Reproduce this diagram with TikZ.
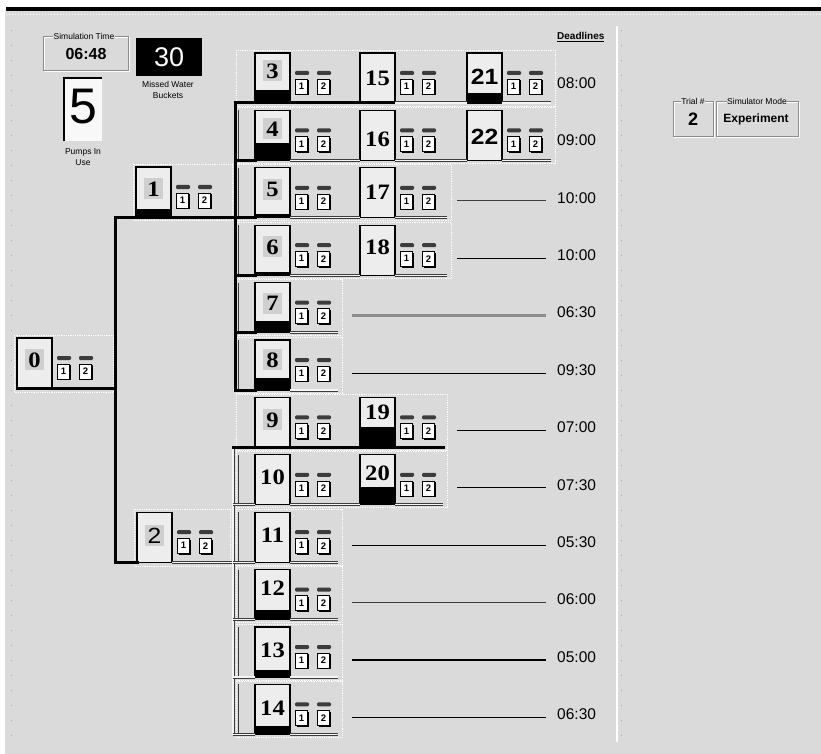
\documentclass[tikz,border=0pt]{standalone}
\usepackage{fontspec}
\setmainfont{Liberation Sans}
\newfontfamily\numfont{Liberation Serif}
\usetikzlibrary{shadows}
\definecolor{bg}{HTML}{DADADA}
\definecolor{boxfill}{HTML}{EDEDED}
\definecolor{numhl}{HTML}{CFCFCF}
\definecolor{dgray}{HTML}{3C3C3C}
\definecolor{mgray}{HTML}{8C8C8C}

\newcommand{\TreeNode}[7]{%
  \node[nbox] (#1) at (#2,#3) {};
  \ifdim #5pt>0pt \fill[black] (#2,#3+50-#5) rectangle (#2+35,#3+50);\fi
  \ifnum#7=1 \fill[numhl] (#2+8,#3+#6-11) rectangle (#2+27,#3+#6+10);\fi
  \node[num] (#1-t) at (#2+17.5,#3+#6) {#4};
}
\newcommand{\IconPair}[3]{%
  \fill[dgray,rounded corners=1.2pt] (#2+5,#3+18) rectangle (#2+19,#3+22);
  \fill[dgray,rounded corners=1.2pt] (#2+27,#3+18) rectangle (#2+41,#3+22);
  \node[ico] (#1-i1) at (#2+11.5,#3+33.5) {1};
  \node[ico] (#1-i2) at (#2+33.5,#3+33.5) {2};
}

\begin{document}
\begin{tikzpicture}[x=1pt,y=-1pt,
  nbox/.style={draw=black,line width=1.1pt,fill=boxfill,minimum width=35pt,minimum height=50pt,anchor=north west,inner sep=0pt,outer sep=0pt},
  num/.style={inner sep=0pt,font=\numfont\bfseries\fontsize{22}{22}\selectfont,xscale=1.12},
  ico/.style={draw=black,line width=0.6pt,fill=white,minimum width=12pt,minimum height=15pt,inner sep=0pt,font=\bfseries\fontsize{9.5}{9.5}\selectfont,drop shadow={shadow xshift=1.3pt,shadow yshift=-1.3pt,fill=black,opacity=1}},
  thk/.style={line width=3pt,line cap=rect,line join=miter},
  dbl/.style={draw=dgray,double=white!70!bg,double distance=1.2pt,line width=0.9pt},
  lline/.style={dgray,line width=1pt},
  pnl/.style={white,densely dotted,line width=0.8pt},
  dl/.style={line width=1pt,black,shorten >=11pt},
  dtime/.style={font=\fontsize{15.5}{15.5}\selectfont,inner sep=0pt,anchor=west},
  lbl/.style={font=\fontsize{8.5}{10.5}\selectfont,inner sep=0.5pt,align=center},
  grpA/.style={mgray,line width=0.7pt},
  grpB/.style={white,line width=0.7pt}
]
\useasboundingbox (0,0) rectangle (821,754);
\fill[white] (0,0) rectangle (821,754);
\fill[bg] (5,11) rectangle (821,754);
\fill[black] (6,7) rectangle (821,11);
\draw[white,dash pattern=on 1pt off 2pt] (6,14) -- (821,14);
\draw[gray!70,dash pattern=on 1pt off 14pt] (11,30) -- (11,742);
\draw[white,line width=1.5pt] (617,26) -- (617,742);
\draw[gray!70,dash pattern=on 1pt off 14pt] (621,30) -- (621,742);

% ---- top left widgets
\draw[grpB] (44,37) rectangle (129,71);
\draw[grpA] (43,36) rectangle (128,70);
\node[lbl,fill=bg] (simt-l) at (84,36) {Simulation Time};
\node[inner sep=0pt,font=\bfseries\fontsize{16}{16}\selectfont] (simt) at (86,54) {06:48};
\node[fill=black,minimum width=66pt,minimum height=38pt,inner sep=0pt,anchor=north west,text=white,font=\fontsize{27}{27}\selectfont] (missed) at (136,38) {30};
\node[lbl] (missed-l) at (168,90) {Missed Water\\Buckets};
\node[fill=white!60!boxfill,minimum width=38pt,minimum height=63pt,anchor=north west,inner sep=0pt] (pumps) at (64,78) {};
\draw[black,line width=2pt] (pumps.south west) -- (pumps.north west) -- (pumps.north east);
\node[inner sep=0pt,font=\fontsize{50}{50}\selectfont] (pumps-n) at (83,107) {5};
\node[lbl] (pumps-l) at (83,157) {Pumps In\\Use};

% ---- top right widgets
\draw[grpB] (674,102) rectangle (714,137);
\draw[grpA] (673,101) rectangle (713,136);
\node[lbl,fill=bg] (trial-l) at (693,101) {Trial \#};
\node[inner sep=0pt,font=\bfseries\fontsize{18}{18}\selectfont] (trial) at (693,119) {2};
\draw[grpB] (717,102) rectangle (799,137);
\draw[grpA] (716,101) rectangle (798,136);
\node[lbl,fill=bg] (mode-l) at (757,101) {Simulator Mode};
\node[inner sep=0pt,font=\bfseries\fontsize{12}{12}\selectfont] (mode) at (756,119) {Experiment};

\node[inner sep=0pt,anchor=west,font=\bfseries\fontsize{10}{10}\selectfont] (dhead) at (557,37) {\underline{Deadlines}};

% ---- dotted panel outlines
\draw[pnl] (14,335) rectangle (113,392);
\draw[pnl] (133,164) rectangle (232,220);
\draw[pnl] (134,509) rectangle (230,566);
\draw[pnl] (236,50) rectangle (555,106);
\draw[pnl] (236,107.4) rectangle (555,163.4);
\draw[pnl] (236,164.8) rectangle (451,220.8);
\draw[pnl] (236,222.2) rectangle (451,278.2);
\draw[pnl] (236,279.6) rectangle (342,335.6);
\draw[pnl] (236,337) rectangle (342,393);
\draw[pnl] (236,394.4) rectangle (447,450.4);
\draw[pnl] (236,451.8) rectangle (447,507.8);
\draw[pnl] (236,509.2) rectangle (342,565.2);
\draw[pnl] (236,566.6) rectangle (342,622.6);
\draw[pnl] (236,624) rectangle (342,680);
\draw[pnl] (236,681.4) rectangle (342,737.4);

% ---- tree nodes
\TreeNode{n0}{17}{338}{0}{0}{22}{1}
\TreeNode{n1}{136}{167}{1}{8}{22}{1}
\TreeNode{n2}{137}{512.2}{{\rmfamily\mdseries 2}}{0}{24}{1}
\TreeNode{n3}{255}{53}{3}{13}{18}{1}
\TreeNode{n4}{255}{110.4}{4}{17}{19}{1}
\TreeNode{n5}{255}{167.8}{5}{4}{22}{1}
\TreeNode{n6}{255}{225.2}{6}{3}{22}{1}
\TreeNode{n7}{255}{282.6}{7}{12}{21}{1}
\TreeNode{n8}{255}{340}{8}{12}{20}{1}
\TreeNode{n9}{255}{397.4}{9}{0}{23}{1}
\TreeNode{n10}{255}{454.8}{10}{0}{22}{0}
\TreeNode{n11}{255}{512.2}{11}{0}{23}{0}
\TreeNode{n12}{255}{569.6}{12}{10}{19}{0}
\TreeNode{n13}{255}{627}{13}{7}{23}{0}
\TreeNode{n14}{255}{684.4}{14}{8}{24}{0}
\TreeNode{n15}{360}{53}{15}{0}{25}{0}
\TreeNode{n16}{360}{110.4}{16}{0}{29}{0}
\TreeNode{n17}{360}{167.8}{17}{0}{24}{0}
\TreeNode{n18}{360}{225.2}{18}{0}{22}{0}
\TreeNode{n19}{360}{397.4}{19}{20}{15}{0}
\TreeNode{n20}{360}{454.8}{20}{18}{18}{0}
\TreeNode{n21}{467}{53}{{\rmfamily 21}}{10}{24}{0}
\TreeNode{n22}{467}{110.4}{{\rmfamily 22}}{0}{26}{0}

% ---- icons
\IconPair{n0}{52}{338}
\IconPair{n1}{171}{167}
\IconPair{n2}{172}{512.2}
\IconPair{n3}{290}{53}
\IconPair{n4}{290}{110.4}
\IconPair{n5}{290}{167.8}
\IconPair{n6}{290}{225.2}
\IconPair{n7}{290}{282.6}
\IconPair{n8}{290}{340}
\IconPair{n9}{290}{397.4}
\IconPair{n10}{290}{454.8}
\IconPair{n11}{290}{512.2}
\IconPair{n12}{290}{569.6}
\IconPair{n13}{290}{627}
\IconPair{n14}{290}{684.4}
\IconPair{n15}{395}{53}
\IconPair{n16}{395}{110.4}
\IconPair{n17}{395}{167.8}
\IconPair{n18}{395}{225.2}
\IconPair{n19}{395}{397.4}
\IconPair{n20}{395}{454.8}
\IconPair{n21}{502}{53}
\IconPair{n22}{502}{110.4}

% ---- bus x positions and row ends
\coordinate (busA) at (115,0);
\coordinate (busB) at (235,0);
\coordinate (busC) at (233,0);
\coordinate (busL) at (238,0);
\coordinate (xA) at (551,0);
\coordinate (xB) at (447,0);
\coordinate (xC) at (338,0);
\coordinate (xD) at (443,0);

% ---- tree connectors
\draw[thk] (n0.south west) -- (n0.south west -| busA);
\draw[thk] (n1.south west -| busA) -- (n2.south west -| busA);
\draw[thk] (n1.south west -| busA) -- (n1.south west -| busB);
\draw[thk] (n3.south west -| busB) -- (n8.south west -| busB);
\draw[thk] (n2.south west -| busA) -- (n2.south west);
\draw[dbl] (n2.south east) -- (n2.south east -| busC);
\draw[dbl] (n9.south west -| busC) -- (n14.south west -| busC);

% inner row brackets
\foreach \n in {n4,n5,n6,n7,n8,n10,n11,n12,n13,n14}{
  \draw[lline] (\n.north west -| busL) -- (\n.south west -| busL);
}

% row 3
\draw[thk] (n3.south west -| busB) -- (n15.south east);
\draw[dbl] (n15.south east) -- (n21.south west);
\draw[dbl] (n21.south east) -- (n21.south east -| xA);
% row 4
\draw[thk] (n4.south west -| busB) -- (n4.south west);
\draw[dbl] (n4.south east) -- (n16.south west);
\draw[dbl] (n16.south east) -- (n22.south west);
\draw[dbl] (n22.south east) -- (n22.south east -| xA);
% rows 5,6
\draw[thk] (n5.south west -| busB) -- (n5.south west);
\draw[dbl] (n5.south east) -- (n17.south west);
\draw[dbl] (n17.south east) -- (n17.south east -| xB);
\draw[thk] (n6.south west -| busB) -- (n6.south west);
\draw[dbl] (n6.south east) -- (n18.south west);
\draw[dbl] (n18.south east) -- (n18.south east -| xB);
% rows 7,8
\draw[thk] (n7.south west -| busB) -- (n7.south west);
\draw[dbl] (n7.south east) -- (n7.south east -| xC);
\draw[thk] (n8.south west -| busB) -- (n8.south west);
\draw[dbl] (n8.south east) -- (n8.south east -| xC);
% row 9
\draw[thk] (n9.south west -| busC) -- (n19.south east -| xD);
% row 10
\draw[dbl] (n10.south west -| busC) -- (n10.south west);
\draw[dbl] (n10.south east) -- (n20.south west);
\draw[dbl] (n20.south east) -- (n20.south east -| xD);
% rows 11-14
\foreach \n in {n11,n12,n13,n14}{
  \draw[dbl] (\n.south west -| busC) -- (\n.south west);
  \draw[dbl] (\n.south east) -- (\n.south east -| xC);
}

% ---- deadlines
\node[dtime] (d3) at (557,83) {08:00};
\node[dtime] (d4) at (557,140.4) {09:00};
\node[dtime] (d5) at (557,197.8) {10:00};
\node[dtime] (d6) at (557,255.2) {10:00};
\node[dtime] (d7) at (557,312.6) {06:30};
\node[dtime] (d8) at (557,370) {09:30};
\node[dtime] (d9) at (557,427.4) {07:00};
\node[dtime] (d10) at (557,484.8) {07:30};
\node[dtime] (d11) at (557,542.2) {05:30};
\node[dtime] (d12) at (557,599.6) {06:00};
\node[dtime] (d13) at (557,657) {05:00};
\node[dtime] (d14) at (557,714.4) {06:30};

\coordinate (l5) at (457,200.8);
\coordinate (l6) at (457,258.2);
\coordinate (l7) at (352,315.6);
\coordinate (l8) at (352,373);
\coordinate (l9) at (457,430.4);
\coordinate (l10) at (457,487.8);
\coordinate (l11) at (352,545.2);
\coordinate (l12) at (352,602.6);
\coordinate (l13) at (352,660);
\coordinate (l14) at (352,717.4);
\draw[dl,dgray,line width=1.2pt] (l5) -- (l5 -| d5.west);
\draw[dl] (l6) -- (l6 -| d6.west);
\draw[dl,mgray,line width=3pt] (l7) -- (l7 -| d7.west);
\draw[dl] (l8) -- (l8 -| d8.west);
\draw[dl] (l9) -- (l9 -| d9.west);
\draw[dl] (l10) -- (l10 -| d10.west);
\draw[dl] (l11) -- (l11 -| d11.west);
\draw[dl,dgray] (l12) -- (l12 -| d12.west);
\draw[dl,line width=2.5pt] (l13) -- (l13 -| d13.west);
\draw[dl] (l14) -- (l14 -| d14.west);
\end{tikzpicture}
\end{document}
